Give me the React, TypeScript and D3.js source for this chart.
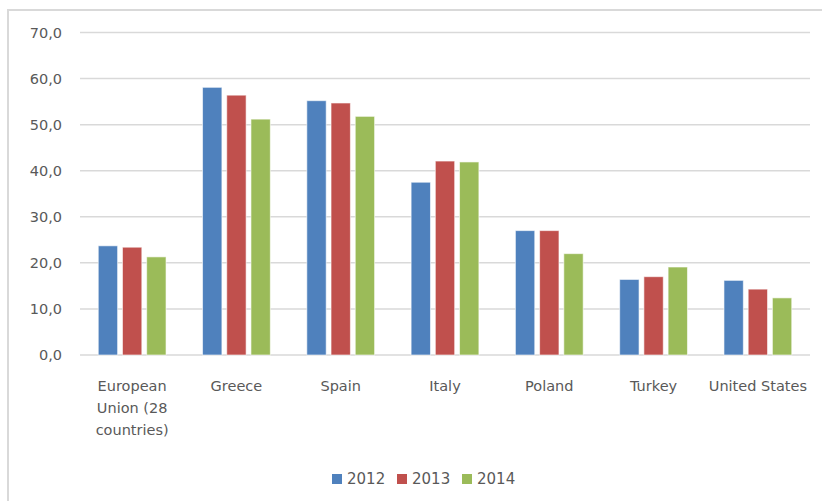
import React from "react";
import * as d3 from "d3";

const categories = ["European Union (28 countries)", "Greece", "Spain", "Italy", "Poland", "Turkey", "United States"];
const categoryLines = [["European", "Union (28", "countries)"], ["Greece"], ["Spain"], ["Italy"], ["Poland"], ["Turkey"], ["United States"]];
const seriesNames = ["2012", "2013", "2014"];
const values2012 = [23.7, 58.1, 55.2, 37.5, 27.0, 16.4, 16.2];
const values2013 = [23.4, 56.4, 54.7, 42.1, 27.0, 17.0, 14.3];
const values2014 = [21.3, 51.2, 51.8, 41.9, 22.0, 19.1, 12.4];
const yTicks = [0, 10, 20, 30, 40, 50, 60, 70];
const colors = ["#4F81BD", "#C0504D", "#9BBB59"];

export default function App() {
  const W = 822, H = 501;
  const left = 80, right = 810, top = 32.5, bottom = 355;
  const series = [values2012, values2013, values2014];
  const x0 = d3.scaleBand().domain(categories).range([left, right]).paddingInner(0.35).paddingOuter(0.175);
  const x1 = d3.scaleBand().domain(seriesNames).range([0, x0.bandwidth()]).paddingInner(0.2).paddingOuter(0);
  const y = d3.scaleLinear().domain([0, 70]).range([bottom, top]);
  const fmt = (v: number) => v.toFixed(1).replace(".", ",");
  const font = "'DejaVu Sans', sans-serif";
  const textColor = "#595959";
  return (
    <svg width={W} height={H} style={{ position: "absolute", left: 0, top: 0 }}>
      <rect x={0} y={0} width={W} height={H} fill="#fff" />
      <rect x={8} y={10} width={W + 10} height={H + 10} fill="none" stroke="#d9d9d9" strokeWidth={2} />
      {yTicks.map((t) => (
        <g key={t}>
          <line x1={left} x2={right} y1={y(t)} y2={y(t)} stroke="#d9d9d9" strokeWidth={1.5} />
          <text x={62} y={y(t)} dy="0.36em" textAnchor="end" fontFamily={font} fontSize={14.5} fill={textColor}>
            {fmt(t)}
          </text>
        </g>
      ))}
      {categories.map((c, i) => (
        <g key={c} transform={`translate(${x0(c)},0)`}>
          {series.map((s, j) => (
            <rect
              key={j}
              x={x1(seriesNames[j])}
              y={y(s[i])}
              width={x1.bandwidth()}
              height={y(0) - y(s[i])}
              fill={colors[j]}
              stroke="#fff"
              strokeOpacity={0.6}
              strokeWidth={1}
            />
          ))}
          {categoryLines[i].map((ln, k) => (
            <text
              key={k}
              x={x0.bandwidth() / 2}
              y={391 + k * 22}
              textAnchor="middle"
              fontFamily={font}
              fontSize={14.5}
              fill={textColor}
            >
              {ln}
            </text>
          ))}
        </g>
      ))}
      {seriesNames.map((n, j) => (
        <g key={n} transform={`translate(${332 + j * 65},0)`}>
          <rect x={0} y={474} width={10} height={10} fill={colors[j]} />
          <text x={15} y={479} dy="0.36em" fontFamily={font} fontSize={15} fill={textColor}>
            {n}
          </text>
        </g>
      ))}
    </svg>
  );
}
